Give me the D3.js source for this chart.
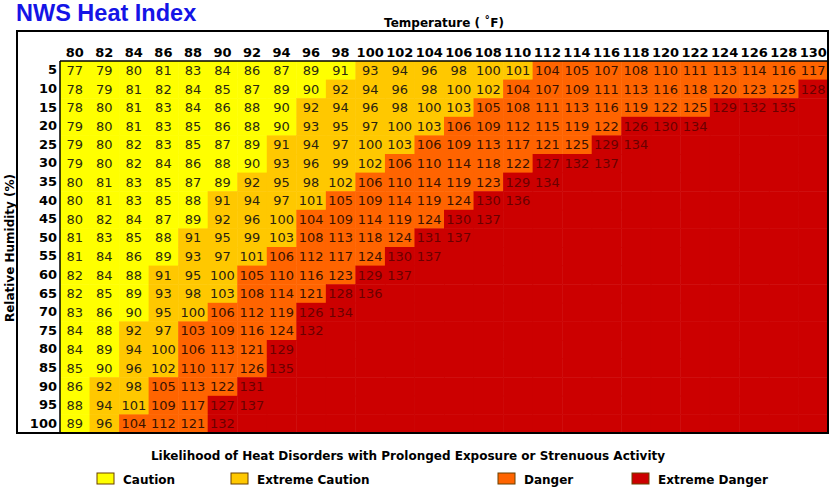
<!DOCTYPE html>
<html><head><meta charset="utf-8">
<script src="https://cdn.jsdelivr.net/npm/d3@7"></script>
<style>body{margin:0;background:#fff}svg{display:block}</style>
</head><body>
<svg id="chart" width="836" height="491"></svg>
<script>
const temps = [80,82,84,86,88,90,92,94,96,98,100,102,104,106,108,110,112,114,116,118,120,122,124,126,128,130];
const humidity = [5,10,15,20,25,30,35,40,45,50,55,60,65,70,75,80,85,90,95,100];
const heatIndex = [
  [77,79,80,81,83,84,86,87,89,91,93,94,96,98,100,101,104,105,107,108,110,111,113,114,116,117],
  [78,79,81,82,84,85,87,89,90,92,94,96,98,100,102,104,107,109,111,113,116,118,120,123,125,128],
  [78,80,81,83,84,86,88,90,92,94,96,98,100,103,105,108,111,113,116,119,122,125,129,132,135],
  [79,80,81,83,85,86,88,90,93,95,97,100,103,106,109,112,115,119,122,126,130,134],
  [79,80,82,83,85,87,89,91,94,97,100,103,106,109,113,117,121,125,129,134],
  [79,80,82,84,86,88,90,93,96,99,102,106,110,114,118,122,127,132,137],
  [80,81,83,85,87,89,92,95,98,102,106,110,114,119,123,129,134],
  [80,81,83,85,88,91,94,97,101,105,109,114,119,124,130,136],
  [80,82,84,87,89,92,96,100,104,109,114,119,124,130,137],
  [81,83,85,88,91,95,99,103,108,113,118,124,131,137],
  [81,84,86,89,93,97,101,106,112,117,124,130,137],
  [82,84,88,91,95,100,105,110,116,123,129,137],
  [82,85,89,93,98,103,108,114,121,128,136],
  [83,86,90,95,100,106,112,119,126,134],
  [84,88,92,97,103,109,116,124,132],
  [84,89,94,100,106,113,121,129],
  [85,90,96,102,110,117,126,135],
  [86,92,98,105,113,122,131],
  [88,94,101,109,117,127,137],
  [89,96,104,112,121,132]
];
const levels = ["Caution","Extreme Caution","Danger","Extreme Danger"];
const levelUpper = [90, 103, 125, Infinity];   // highest rounded value of each level
// cells whose (unrounded) value falls in a different band than the rounded number suggests
const overrides = [
  {rh:5, t:98, level:0},
  {rh:75, t:88, level:2},
  {rh:85, t:92, level:2}
];
const levelColors = ["#FFFF00","#FFC800","#FF6400","#CC0000"];
const levelTextColors = ["#2a2a10","#2a2310","#3a1200","#6a0000"];

const svg = d3.select("#chart");
const gridL = 60, gridR = 828, gridT = 61, gridB = 433;
const x = d3.scaleBand().domain(temps).range([gridL, gridR]).padding(0);
const y = d3.scaleBand().domain(humidity).range([gridT, gridB]).padding(0);
const color = d3.scaleOrdinal().domain(d3.range(levels.length)).range(levelColors);
const textColor = d3.scaleOrdinal().domain(d3.range(levels.length)).range(levelTextColors);

function levelOf(rh, t, v) {
  const o = overrides.find(d => d.rh === rh && d.t === t);
  if (o) return o.level;
  if (v == null) return levels.length - 1;
  return levelUpper.findIndex(u => v <= u);
}

const cells = [];
humidity.forEach((rh, i) => temps.forEach((t, j) => {
  const v = heatIndex[i][j];
  cells.push({rh, t, v, level: levelOf(rh, t, v)});
}));

// title
svg.append("text").attr("x", 16).attr("y", 21)
  .attr("font-family", "Liberation Sans, Arial, sans-serif").attr("font-weight", "bold")
  .attr("font-size", 23.5).attr("fill", "#1414E6").text("NWS Heat Index");

// cells
svg.append("g").selectAll("rect").data(cells).join("rect")
  .attr("x", d => x(d.t)).attr("y", d => y(d.rh))
  .attr("width", x.bandwidth() + 0.5).attr("height", y.bandwidth() + 0.5)
  .attr("fill", d => color(d.level));

svg.append("g").selectAll("text").data(cells.filter(d => d.v != null)).join("text")
  .attr("x", d => x(d.t) + x.bandwidth() / 2).attr("y", d => y(d.rh) + y.bandwidth() / 2)
  .attr("dy", "0.36em").attr("text-anchor", "middle")
  .attr("font-family", "DejaVu Sans, sans-serif").attr("font-size", 13)
  .attr("fill", d => textColor(d.level)).text(d => d.v);

// grid border lines (left & top)
svg.append("line").attr("x1", gridL).attr("x2", gridL).attr("y1", gridT).attr("y2", gridB)
  .attr("stroke", "#000").attr("stroke-width", 1.5);
svg.append("line").attr("x1", gridL).attr("x2", gridR).attr("y1", gridT).attr("y2", gridT)
  .attr("stroke", "#000").attr("stroke-width", 1.5);
// outer frame
svg.append("rect").attr("x", 17).attr("y", 31).attr("width", 811).attr("height", 402)
  .attr("fill", "none").attr("stroke", "#000").attr("stroke-width", 2);

// column headers
const topAxis = d3.axisTop(x).tickSize(0).tickPadding(0);
const gTop = svg.append("g").attr("transform", `translate(0,${gridT - 4})`).call(topAxis);
gTop.select(".domain").remove();
gTop.selectAll("text").attr("font-family", "DejaVu Sans, sans-serif").attr("font-weight", "bold")
  .attr("font-size", 13).attr("fill", "#000").attr("dy", "0");

// row labels
const leftAxis = d3.axisLeft(y).tickSize(0).tickPadding(3);
const gLeft = svg.append("g").attr("transform", `translate(${gridL},0)`).call(leftAxis);
gLeft.select(".domain").remove();
gLeft.selectAll("text").attr("font-family", "DejaVu Sans, sans-serif").attr("font-weight", "bold")
  .attr("font-size", 13).attr("fill", "#000");

// axis titles
svg.append("text").attr("x", 444).attr("y", 27).attr("text-anchor", "middle")
  .attr("font-family", "DejaVu Sans, sans-serif").attr("font-weight", "bold").attr("font-size", 12)
  .text("Temperature ( ˚F)");
svg.append("text").attr("transform", "translate(14,248) rotate(-90)").attr("text-anchor", "middle")
  .attr("font-family", "DejaVu Sans, sans-serif").attr("font-weight", "bold").attr("font-size", 12)
  .text("Relative Humidity (%)");

// legend
svg.append("text").attr("x", 408).attr("y", 460).attr("text-anchor", "middle")
  .attr("font-family", "DejaVu Sans, sans-serif").attr("font-weight", "bold")
  .attr("font-size", 12).text("Likelihood of Heat Disorders with Prolonged Exposure or Strenuous Activity");
const legendX = [97, 231, 498, 632];
const lg = svg.append("g").selectAll("g").data(levels).join("g")
  .attr("transform", (d, i) => `translate(${legendX[i]},473)`);
lg.append("rect").attr("width", 17).attr("height", 11).attr("fill", (d, i) => levelColors[i])
  .attr("stroke", "#6a4000").attr("stroke-width", 1);
lg.append("text").attr("x", 26).attr("y", 11)
  .attr("font-family", "DejaVu Sans, sans-serif").attr("font-weight", "bold").attr("font-size", 12)
  .text(d => d);
</script>
</body></html>
